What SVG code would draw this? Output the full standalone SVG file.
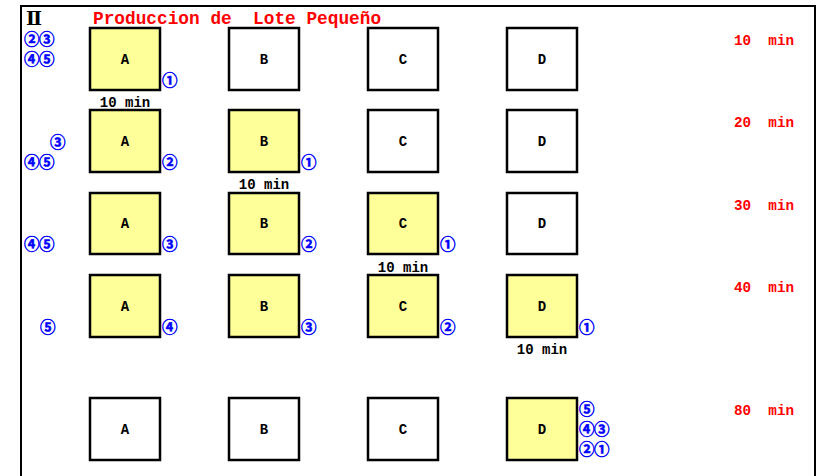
<svg xmlns="http://www.w3.org/2000/svg" width="825" height="476" viewBox="0 0 825 476">
<style>
.frame{fill:none;stroke:#000;stroke-width:2}
.box{stroke:#000;stroke-width:2.5}
.on{fill:#FFFF99}
.off{fill:#FFFFFF}
.lbl{font-family:"Liberation Mono","DejaVu Sans Mono",monospace;font-weight:bold;font-size:14px;fill:#000;text-anchor:middle}
.dur{font-family:"Liberation Mono","DejaVu Sans Mono",monospace;font-weight:bold;font-size:14px;fill:#000;text-anchor:middle}
.time{font-family:"Liberation Mono","DejaVu Sans Mono",monospace;font-weight:bold;font-size:14.3px;fill:#FF0000}
.title{font-family:"Liberation Mono","DejaVu Sans Mono",monospace;font-weight:bold;font-size:17.8px;fill:#FF0000}
.num{font-family:"Noto Sans CJK JP","Noto Sans CJK SC",sans-serif;font-weight:bold;font-size:15.5px;letter-spacing:-0.5px;fill:#0000FF;stroke:#0000FF;stroke-width:0.5px}
</style>
<path class="frame" d="M21,476 V6 H815 V476"/>
<text x="26" y="25" style="font-family:'DejaVu Serif',serif;font-weight:bold;font-size:19px;fill:#000">Ⅱ</text>
<text class="title" x="93" y="24" xml:space="preserve">Produccion de  Lote Pequeño</text>

<!-- Row 1 -->
<g id="r1">
<g id="r1A"><rect class="box on" x="90" y="28" width="70" height="62"/><text class="lbl" x="125" y="64">A</text></g>
<g id="r1B"><rect class="box off" x="229" y="28" width="70" height="62"/><text class="lbl" x="264" y="64">B</text></g>
<g id="r1C"><rect class="box off" x="368" y="28" width="70" height="62"/><text class="lbl" x="403" y="64">C</text></g>
<g id="r1D"><rect class="box off" x="507" y="28" width="70" height="62"/><text class="lbl" x="542" y="64">D</text></g>
<text class="num" x="24" y="45">②③</text>
<text class="num" x="24" y="65">④⑤</text>
<text class="num" x="162" y="86">①</text>
<text class="dur" x="125" y="107">10 min</text>
<text class="time" x="734" y="45" xml:space="preserve">10  min</text>
</g>

<!-- Row 2 -->
<g id="r2">
<g id="r2A"><rect class="box on" x="90" y="110" width="70" height="62"/><text class="lbl" x="125" y="146">A</text></g>
<g id="r2B"><rect class="box on" x="229" y="110" width="70" height="62"/><text class="lbl" x="264" y="146">B</text></g>
<g id="r2C"><rect class="box off" x="368" y="110" width="70" height="62"/><text class="lbl" x="403" y="146">C</text></g>
<g id="r2D"><rect class="box off" x="507" y="110" width="70" height="62"/><text class="lbl" x="542" y="146">D</text></g>
<text class="num" x="50" y="148">③</text>
<text class="num" x="24" y="168">④⑤</text>
<text class="num" x="162" y="168">②</text>
<text class="num" x="301" y="168">①</text>
<text class="dur" x="264" y="189">10 min</text>
<text class="time" x="734" y="127" xml:space="preserve">20  min</text>
</g>

<!-- Row 3 -->
<g id="r3">
<g id="r3A"><rect class="box on" x="90" y="193" width="70" height="61"/><text class="lbl" x="125" y="228">A</text></g>
<g id="r3B"><rect class="box on" x="229" y="193" width="70" height="61"/><text class="lbl" x="264" y="228">B</text></g>
<g id="r3C"><rect class="box on" x="368" y="193" width="70" height="61"/><text class="lbl" x="403" y="228">C</text></g>
<g id="r3D"><rect class="box off" x="507" y="193" width="70" height="61"/><text class="lbl" x="542" y="228">D</text></g>
<text class="num" x="24" y="250">④⑤</text>
<text class="num" x="162" y="250">③</text>
<text class="num" x="301" y="250">②</text>
<text class="num" x="440" y="250">①</text>
<text class="dur" x="403" y="272">10 min</text>
<text class="time" x="734" y="210" xml:space="preserve">30  min</text>
</g>

<!-- Row 4 -->
<g id="r4">
<g id="r4A"><rect class="box on" x="90" y="275" width="70" height="62"/><text class="lbl" x="125" y="311">A</text></g>
<g id="r4B"><rect class="box on" x="229" y="275" width="70" height="62"/><text class="lbl" x="264" y="311">B</text></g>
<g id="r4C"><rect class="box on" x="368" y="275" width="70" height="62"/><text class="lbl" x="403" y="311">C</text></g>
<g id="r4D"><rect class="box on" x="507" y="275" width="70" height="62"/><text class="lbl" x="542" y="311">D</text></g>
<text class="num" x="40" y="333">⑤</text>
<text class="num" x="162" y="333">④</text>
<text class="num" x="301" y="333">③</text>
<text class="num" x="440" y="333">②</text>
<text class="num" x="579" y="333">①</text>
<text class="dur" x="542" y="354">10 min</text>
<text class="time" x="734" y="292" xml:space="preserve">40  min</text>
</g>

<!-- Row 5 -->
<g id="r5">
<g id="r5A"><rect class="box off" x="90" y="398" width="70" height="62"/><text class="lbl" x="125" y="434">A</text></g>
<g id="r5B"><rect class="box off" x="229" y="398" width="70" height="62"/><text class="lbl" x="264" y="434">B</text></g>
<g id="r5C"><rect class="box off" x="368" y="398" width="70" height="62"/><text class="lbl" x="403" y="434">C</text></g>
<g id="r5D"><rect class="box on" x="507" y="398" width="70" height="62"/><text class="lbl" x="542" y="434">D</text></g>
<text class="num" x="579" y="415">⑤</text>
<text class="num" x="579" y="435">④③</text>
<text class="num" x="579" y="455">②①</text>
<text class="time" x="734" y="415" xml:space="preserve">80  min</text>
</g>
<g id="connectors"/>
</svg>
